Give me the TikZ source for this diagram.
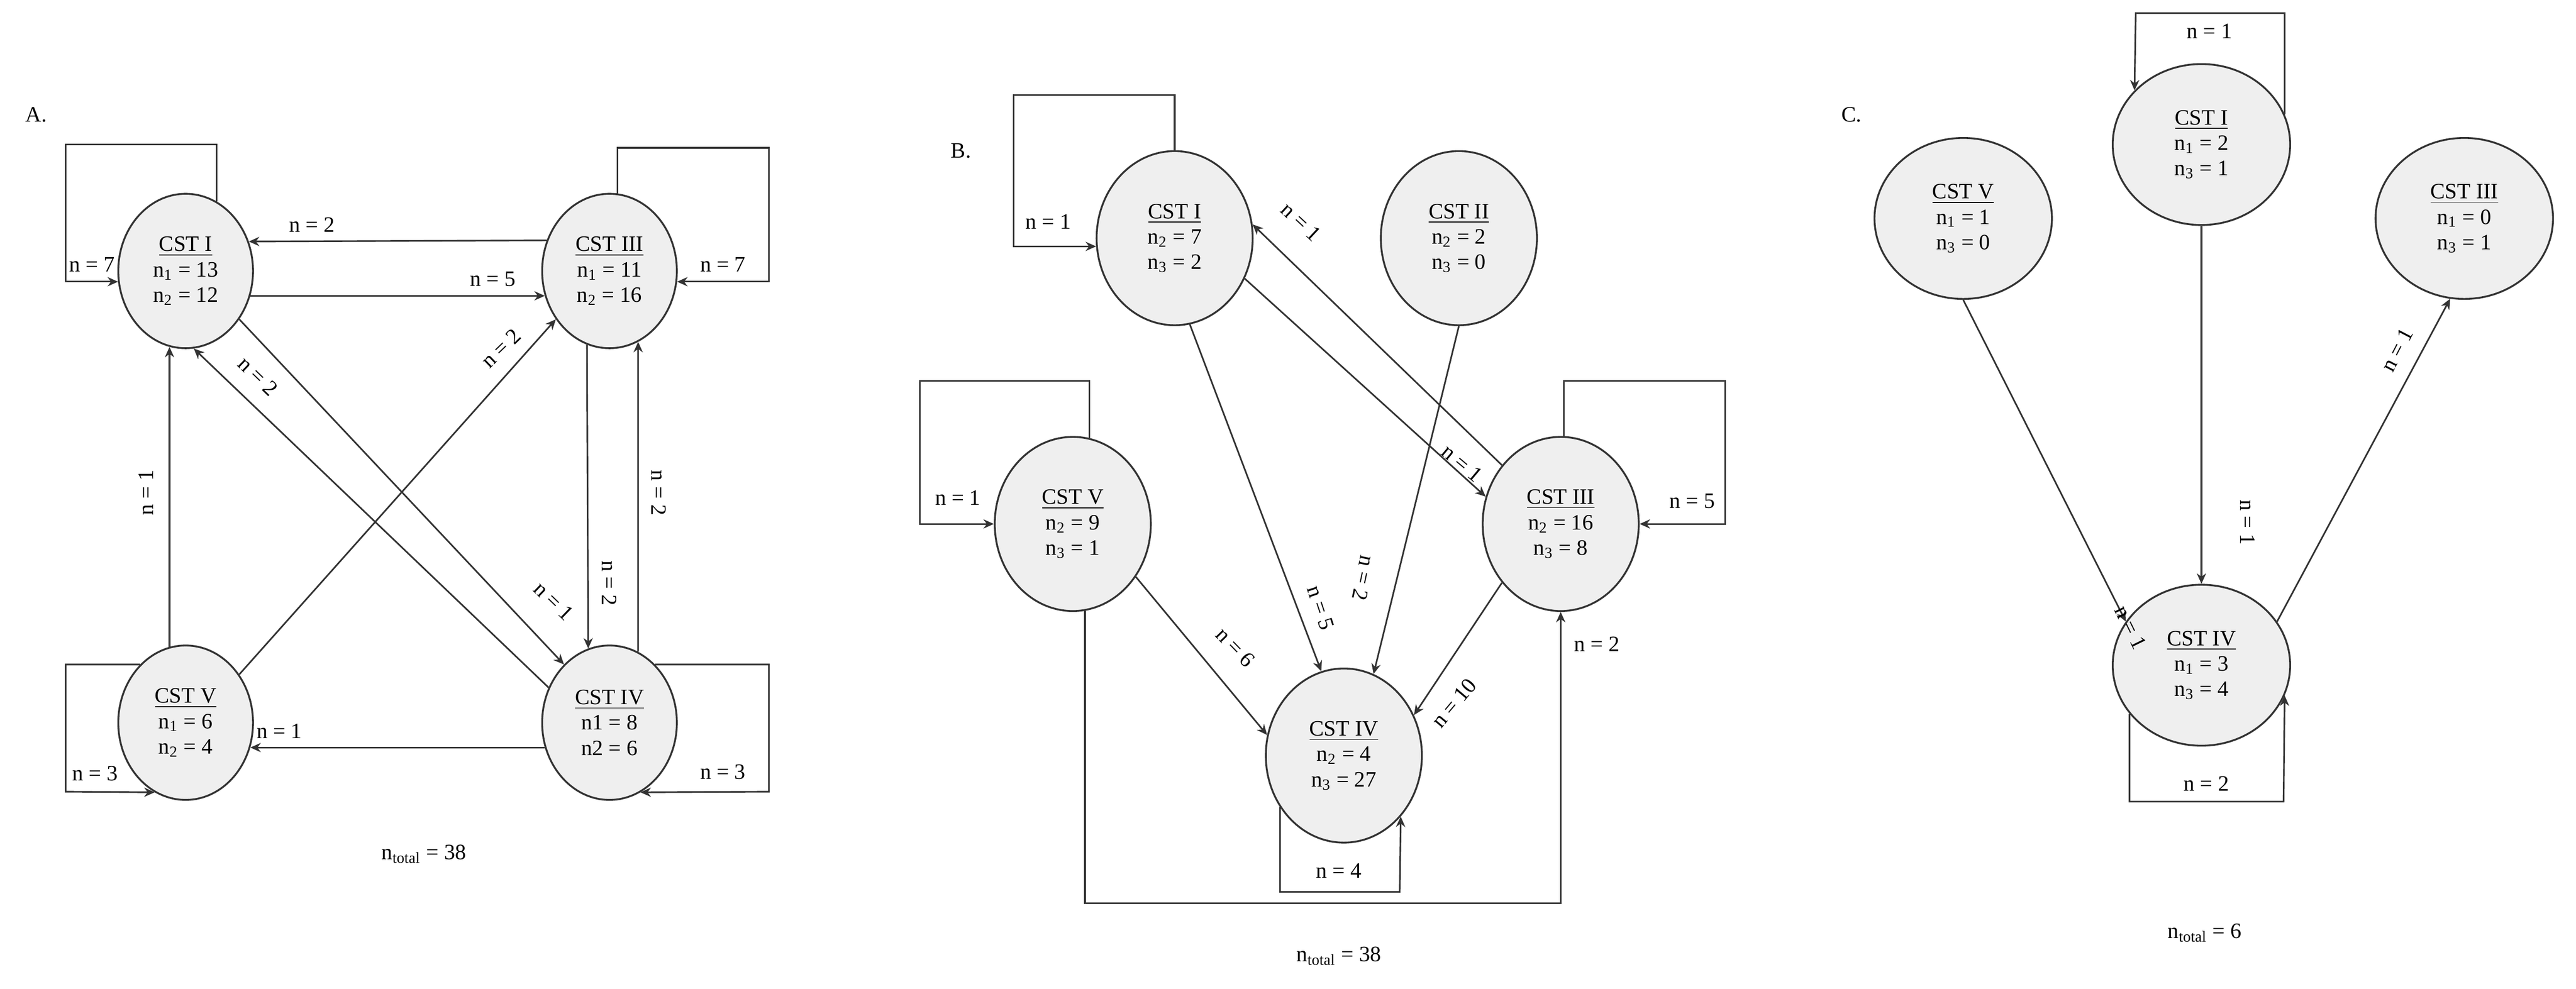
\documentclass[tikz,border=0pt]{standalone}
\usepackage{fontspec}
\setmainfont{Liberation Serif}
\usetikzlibrary{shapes.geometric,arrows.meta}
\definecolor{nodefill}{HTML}{EFEFEF}
\definecolor{ln}{HTML}{333333}
\begin{document}
\begin{tikzpicture}[x=0.025cm,y=0.025cm,
  st/.style={ellipse,draw=ln,line width=0.8pt,fill=nodefill,inner sep=0pt,align=center,font=\fontsize{9.5}{11}\selectfont},
  sa/.style={st,minimum width=82*0.025cm,minimum height=94*0.025cm},
  sb/.style={st,minimum width=95*0.025cm,minimum height=106*0.025cm},
  sc/.style={st,minimum width=108*0.025cm,minimum height=98*0.025cm},
  ar/.style={draw=ln,line width=0.7pt,-{Stealth[length=4.5pt,width=4pt]}},
  lb/.style={font=\fontsize{9.5}{10}\selectfont,inner sep=1pt},
  tt/.style={font=\fontsize{9.5}{10}\selectfont}]
\useasboundingbox (0,0) rectangle (1568,602);
% ---------- Panel A ----------
\node[tt] (pA) at (22,532) {A.};
\node[sa] (AI) at (113,437) {\underline{CST I}\\n\textsubscript{1} = 13\\n\textsubscript{2} = 12};
\node[sa] (AIII) at (371,437) {\underline{CST III}\\n\textsubscript{1} = 11\\n\textsubscript{2} = 16};
\node[sa] (AV) at (113,162) {\underline{CST V}\\n\textsubscript{1} = 6\\n\textsubscript{2} = 4};
\node[sa] (AIV) at (371,162) {\underline{CST IV}\\n1 = 8\\n2 = 6};
\coordinate (a1) at (40,514);
\coordinate (a2) at (468,512);
\coordinate (a3) at (40,120);
\coordinate (a4) at (468,120);
\draw[ar] (AI.66.9) |- (a1) |- (AI.189.8);
\draw[ar] (AIII.84.4) |- (a2) |- (AIII.-9.8);
\draw[ar] (AV.128) -| (a3) -- (AV.246.3);
\draw[ar] (AIV.52) -| (a4) -- (AIV.-66.3);
\draw[ar] (AIII.154.6) -- (AI.25.4);
\draw[ar] (AI.-21.1) -- (AIII.201.1);
\draw[ar] (AIV.201.1) -- (AV.-21.1);
\draw[ar] (AV.102) -- (AI.258);
\draw[ar] (AIII.253.8) -- (AIV.106.2);
\draw[ar] (AIV.68.3) -- (AIII.-68.3);
\draw[ar] (AV.42) -- (AIII.222);
\draw[ar] (AIV.150) -- (AI.-84);
\draw[ar] (AI.-42) -- (AIV.128);
\node[lb] (la1) at (56,441) {n = 7};
\node[lb] (la2) at (440,441) {n = 7};
\node[lb] (la3) at (58,131) {n = 3};
\node[lb] (la4) at (440,132) {n = 3};
\node[lb] (la5) at (190,465) {n = 2};
\node[lb] (la6) at (300,432) {n = 5};
\node[lb] (la7) at (170,157) {n = 1};
\node[lb,rotate=90] (la8) at (89,302) {n = 1};
\node[lb,rotate=-90] (la9) at (371,247) {n = 2};
\node[lb,rotate=-90] (la10) at (401,302) {n = 2};
\node[lb,rotate=44] (la11) at (305,390) {n = 2};
\node[lb,rotate=-44] (la12) at (157,373) {n = 2};
\node[lb,rotate=-44] (la13) at (337,236) {n = 1};
\node[tt] (ta) at (258,82) {n\textsubscript{total} = 38};
% ---------- Panel B ----------
\node[tt] (pB) at (585,510) {B.};
\node[sb] (BI) at (715,457) {\underline{CST I}\\n\textsubscript{2} = 7\\n\textsubscript{3} = 2};
\node[sb] (BII) at (888,457) {\underline{CST II}\\n\textsubscript{2} = 2\\n\textsubscript{3} = 0};
\node[sb] (BV) at (653,283) {\underline{CST V}\\n\textsubscript{2} = 9\\n\textsubscript{3} = 1};
\node[sb] (BIII) at (950,283) {\underline{CST III}\\n\textsubscript{2} = 16\\n\textsubscript{3} = 8};
\node[sb] (BIV) at (818,142) {\underline{CST IV}\\n\textsubscript{2} = 4\\n\textsubscript{3} = 27};
\coordinate (b1) at (617,544);
\coordinate (b2) at (560,370);
\coordinate (b3) at (1050,370);
\coordinate (b4) at (852,59);
\coordinate (b5) at (950,52);
\draw[ar] (BI.90) |- (b1) |- (BI.186);
\draw[ar] (BV.79) |- (b2) |- (BV.180);
\draw[ar] (BIII.88) |- (b3) |- (BIII.0);
\draw[ar] (BIV.219) |- (b4) -- (BIV.-47);
\draw[ar] (BV.-82) |- (b5) -- (BIII.-90);
\draw[ar] (BI.-80) -- (BIV.105);
\draw[ar] (BII.-90) -- (BIV.70);
\draw[ar] (BV.-40) -- (BIV.165);
\draw[ar] (BIII.-135) -- (BIV.30);
\draw[ar] (BI.-30) -- (BIII.160);
\draw[ar] (BIII.135) -- (BI.10);
\node[lb] (lb1) at (638,467) {n = 1};
\node[lb] (lb2) at (583,299) {n = 1};
\node[lb] (lb3) at (1030,297) {n = 5};
\node[lb] (lb4) at (815,72) {n = 4};
\node[lb] (lb5) at (972,210) {n = 2};
\node[lb,rotate=-71.6] (lb6) at (804,232) {n = 5};
\node[lb,rotate=-101.8] (lb7) at (830,250) {n = 2};
\node[lb,rotate=-46] (lb8) at (752,208) {n = 6};
\node[lb,rotate=50] (lb9) at (885,174) {n = 10};
\node[lb,rotate=-40] (lb10) at (890,320) {n = 1};
\node[lb,rotate=-43] (lb11) at (792,467) {n = 1};
\node[tt] (tb) at (815,20) {n\textsubscript{total} = 38};
% ---------- Panel C ----------
\node[tt] (pC) at (1127,532) {C.};
\node[sc] (CV) at (1195,469) {\underline{CST V}\\n\textsubscript{1} = 1\\n\textsubscript{3} = 0};
\node[sc] (CI) at (1340,514) {\underline{CST I}\\n\textsubscript{1} = 2\\n\textsubscript{3} = 1};
\node[sc] (CIII) at (1500,469) {\underline{CST III}\\n\textsubscript{1} = 0\\n\textsubscript{3} = 1};
\node[sc] (CIV) at (1340,197) {\underline{CST IV}\\n\textsubscript{1} = 3\\n\textsubscript{3} = 4};
\coordinate (c1) at (1300,594);
\coordinate (c2) at (1390,114);
\draw[ar] (CI.20) |- (c1) -- (CI.141.3);
\draw[ar] (CIV.214) |- (c2) -- (CIV.-20);
\draw[ar] (CV.-90) -- (CIV.150);
\draw[ar] (CI.-90) -- (CIV.90);
\draw[ar] (CIV.30) -- (CIII.-100);
\node[lb] (lc1) at (1345,583) {n = 1};
\node[lb] (lc2) at (1343,125) {n = 2};
\node[lb,rotate=-64] (lc3) at (1297,220) {n = 1};
\node[lb,rotate=-90] (lc4) at (1368,284) {n = 1};
\node[lb,rotate=62.6] (lc5) at (1459,389) {n = 1};
\node[tt] (tc) at (1342,34) {n\textsubscript{total} = 6};
\end{tikzpicture}
\end{document}
